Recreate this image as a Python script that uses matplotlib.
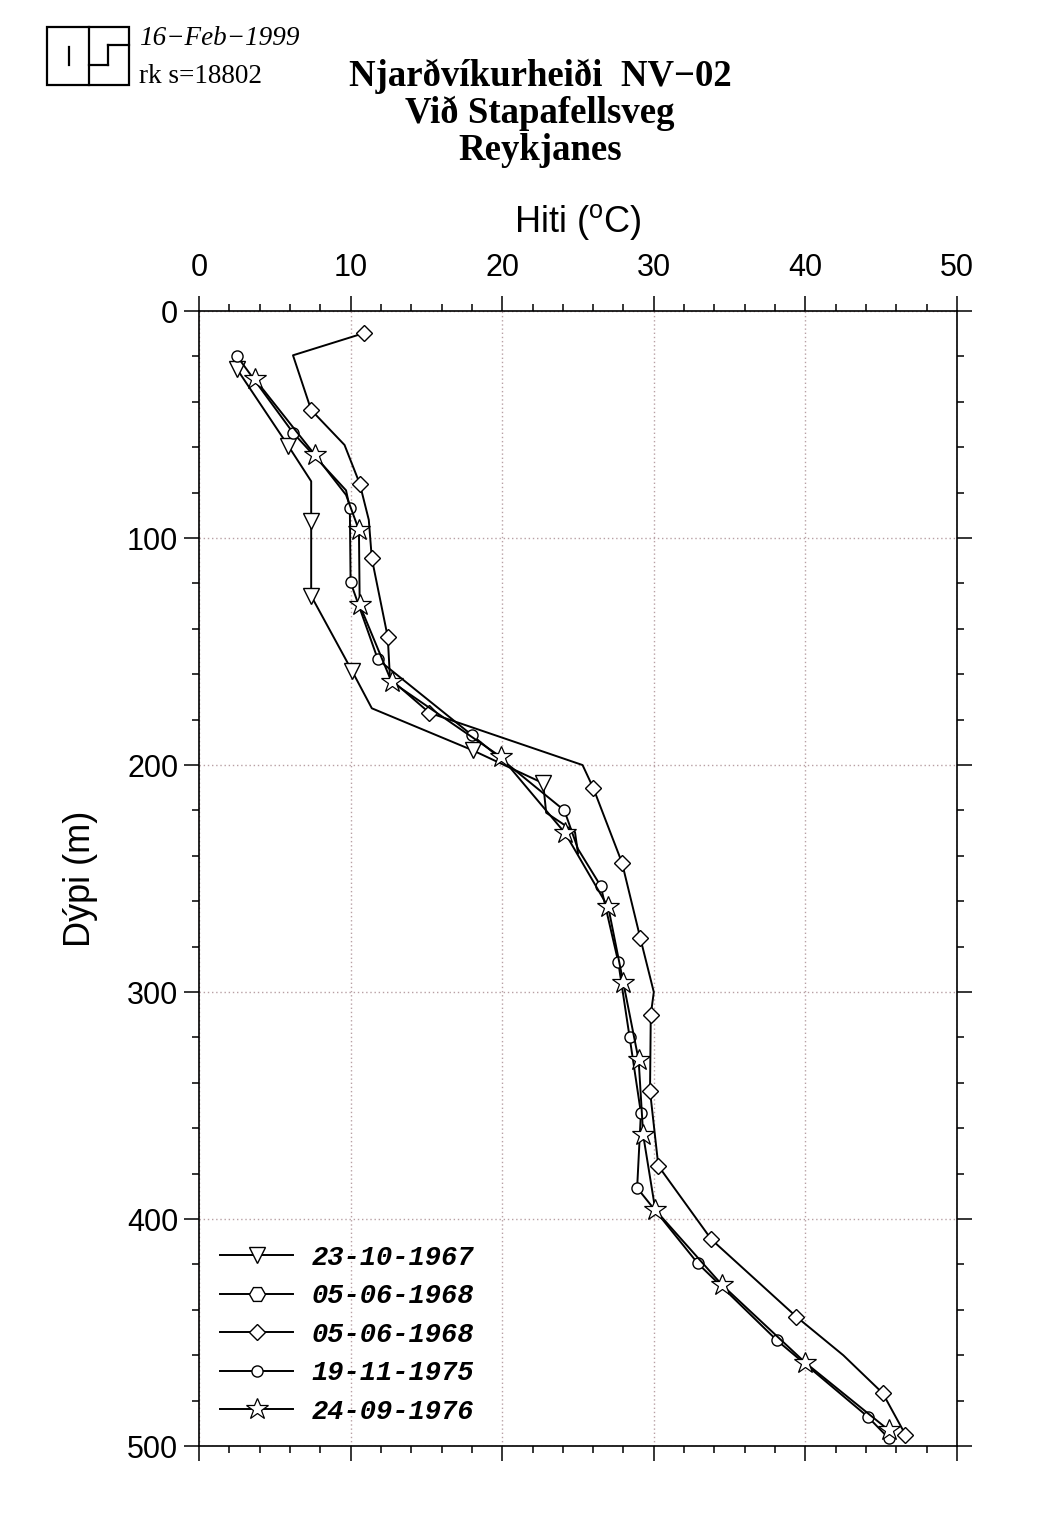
import matplotlib
matplotlib.use("Agg")
import matplotlib.pyplot as plt
from matplotlib.lines import Line2D
from matplotlib.patches import Rectangle

# Temperature logs, well NV-02 (depth in m, temperature in deg C)
t67_depth = [25.5, 59.5, 75, 92.5, 125.5, 158.6, 175, 193.5, 208, 221, 229.5, 239]
t67_temp = [2.5, 5.9, 7.4, 7.4, 7.4, 10.1, 11.4, 18.05, 22.7, 22.9, 24.8, 25.0]
t67_marks = [0, 1, 3, 4, 5, 7, 8]

# second 1968 log has nothing inside the plotted range
h68_depth = []
h68_temp = []

d68_depth = [9.7, 19.5, 43.6, 59, 76, 92, 109, 143.6, 162, 177, 200, 210, 243, 276,
             300, 310, 343.6, 376.6, 409, 443, 460, 476.7, 495]
d68_temp = [10.9, 6.2, 7.4, 9.6, 10.6, 11.2, 11.4, 12.45, 12.6, 15.2, 25.3, 26.0, 27.9,
            29.1, 30.0, 29.8, 29.75, 30.3, 33.8, 39.4, 42.5, 45.1, 46.6]
d68_marks = [0, 2, 4, 6, 7, 9, 11, 12, 13, 15, 16, 17, 18, 19, 21, 22]

c75_depth = [19.8, 53.6, 79, 86.8, 119.5, 153.5, 186.8, 220, 237, 253.3, 286.6, 319.7,
             353.3, 386.3, 419.5, 453.3, 487, 496.6]
c75_temp = [2.5, 6.2, 9.7, 9.95, 10.0, 11.8, 18.0, 24.1, 25.0, 26.5, 27.65, 28.4,
            29.15, 28.9, 32.9, 38.1, 44.1, 45.5]
c75_marks = [0, 1, 3, 4, 5, 6, 7, 9, 10, 11, 12, 13, 14, 15, 16, 17]

s76_depth = [30.1, 63.4, 81, 96.5, 129.5, 163.3, 196.6, 230, 262.7, 296.2, 330, 363,
             396, 429, 463.3, 493]
s76_temp = [3.7, 7.65, 9.7, 10.55, 10.6, 12.7, 19.95, 24.15, 27.0, 28.0, 29.0, 29.3,
            30.1, 34.5, 40.0, 45.5]
s76_marks = [0, 1, 3, 4, 5, 6, 7, 8, 9, 10, 11, 12, 13, 14, 15]

labels = ["23-10-1967", "05-06-1968", "05-06-1968", "19-11-1975", "24-09-1976"]

plt.rcParams["font.family"] = "Liberation Sans"
plt.rcParams["mathtext.fontset"] = "custom"
plt.rcParams["mathtext.rm"] = "Liberation Sans"

fig = plt.figure(figsize=(10.63, 15.15), dpi=100)
ax = fig.add_axes([0.1872, 0.0455, 0.7131, 0.7492])

style = dict(color="black", lw=1.4, mfc="white", mec="black", mew=1.0)
ax.plot(t67_temp, t67_depth, marker="v", ms=11.5, markevery=t67_marks, label=labels[0], **style)
ax.plot(h68_temp, h68_depth, marker="H", ms=11.5, label=labels[1], **style)
ax.plot(d68_temp, d68_depth, marker="D", ms=8.5, markevery=d68_marks, label=labels[2], **style)
ax.plot(c75_temp, c75_depth, marker="o", ms=8, markevery=c75_marks, label=labels[3], **style)
ax.plot(s76_temp, s76_depth, marker="*", ms=16.5, markevery=s76_marks, label=labels[4],
        **dict(style, mew=0.9))

ax.set_xlim(0, 50)
ax.set_ylim(500, 0)
ax.set_xticks(range(0, 51, 10))
ax.set_xticks(range(0, 51, 2), minor=True)
ax.set_yticks(range(0, 501, 100))
ax.set_yticks(range(0, 501, 20), minor=True)
ax.xaxis.set_ticks_position("both")
ax.yaxis.set_ticks_position("both")
ax.xaxis.set_label_position("top")
ax.tick_params(which="major", direction="out", length=11, width=1.1, labelsize=22,
               top=True, bottom=True, labeltop=True, labelbottom=False, pad=9)
ax.tick_params(axis="y", which="major", pad=4)
ax.tick_params(which="minor", direction="out", length=5, width=1.1)
for sp in ax.spines.values():
    sp.set_linewidth(1.2)

ax.grid(which="major", color="#b8a0a4", linestyle=(0, (1, 2)), lw=1.0)

ax.set_xlabel("Hiti ($^{\\rm o}$C)", fontsize=26, labelpad=15)
ax.set_ylabel("Dýpi (m)", fontsize=26, labelpad=21)

leg = ax.legend(loc="lower left", bbox_to_anchor=(0.028, 0.019), frameon=False,
                borderpad=0, borderaxespad=0, handlelength=2.7, handletextpad=0.68,
                labelspacing=0.46,
                prop=dict(family="Liberation Mono", weight="bold", style="italic", size=19.5))

# header block
title_font = dict(ha="center", va="center", fontsize=26.5, family="Liberation Serif",
                  weight="bold")
fig.text(0.508, 0.9497, "Njarðvíkurheiði  NV\u221202", **title_font)
fig.text(0.508, 0.9250, "Við Stapafellsveg", **title_font)
fig.text(0.508, 0.9005, "Reykjanes", **title_font)
fig.text(0.131, 0.9745, "16\u2212Feb\u22121999", ha="left", va="center",
         fontsize=19.5, family="Liberation Serif", style="italic")
fig.text(0.131, 0.9495, "rk s=18802", ha="left", va="center",
         fontsize=19.5, family="Liberation Serif")

# OS logo
W, H = 1063.0, 1515.0
def px(x, y):
    return x / W, 1 - y / H
x0, y0 = px(47, 85)
x1, y1 = px(129, 27)
fig.add_artist(Rectangle((x0, y0), x1 - x0, y1 - y0, fill=False, lw=1.6,
                         edgecolor="black", transform=fig.transFigure))
for seg in [((89, 27), (89, 85)), ((69, 47), (69, 65)), ((108, 45), (129, 45)),
            ((108, 45), (108, 65)), ((89, 65), (108, 65))]:
    (ax_, ay_), (bx_, by_) = px(*seg[0]), px(*seg[1])
    fig.add_artist(Line2D([ax_, bx_], [ay_, by_], color="black", lw=1.6,
                          transform=fig.transFigure))

fig.savefig("out.png", dpi=100, facecolor="white")
